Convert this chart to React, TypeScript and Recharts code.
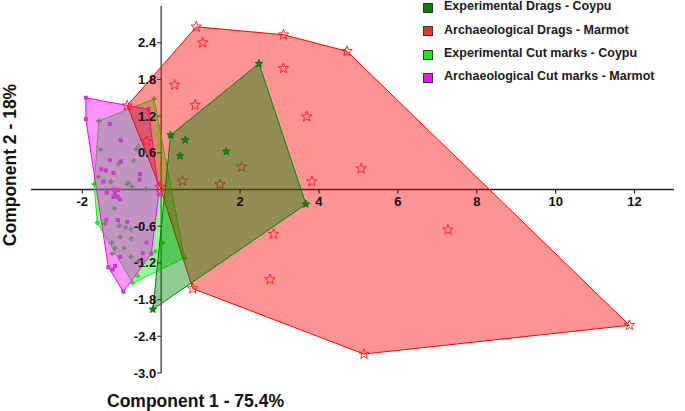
import React from 'react';
import { ScatterChart, Scatter, XAxis, YAxis, ReferenceLine } from 'recharts';

type P = { x: number; y: number };

// Archaeological Drags - Marmot (red)
const redHull: P[] = [
  { x: 0.89, y: 2.66 }, { x: 3.10, y: 2.53 }, { x: 4.71, y: 2.26 }, { x: 11.87, y: -2.22 },
  { x: 5.14, y: -2.69 }, { x: 0.80, y: -1.62 }, { x: -0.03, y: 0.04 }, { x: -0.86, y: 1.37 },
];
const redInner: P[] = [
  { x: 1.05, y: 2.40 }, { x: 3.10, y: 1.98 }, { x: 0.34, y: 1.71 }, { x: 0.86, y: 1.38 },
  { x: 3.69, y: 1.19 }, { x: 3.82, y: 0.13 }, { x: 5.07, y: 0.34 }, { x: 2.85, y: -0.73 },
  { x: 2.76, y: -1.47 }, { x: 7.27, y: -0.66 }, { x: 2.04, y: 0.37 }, { x: 1.49, y: 0.08 },
  { x: 0.54, y: 0.14 }, { x: -0.37, y: 0.79 },
];

// Experimental Drags - Coypu (dark green)
const darkGreenHull: P[] = [
  { x: 0.24, y: 0.89 }, { x: 2.48, y: 2.06 }, { x: 3.67, y: -0.24 }, { x: -0.21, y: -1.96 },
];
const darkGreenInner: P[] = [
  { x: 0.61, y: 0.81 }, { x: 0.48, y: 0.55 }, { x: 1.65, y: 0.62 },
];

// Experimental Cut marks - Coypu (light green)
const lightGreenHull: P[] = [
  { x: -1.58, y: 1.12 }, { x: -0.18, y: 1.48 }, { x: 0.59, y: -1.12 }, { x: -0.72, y: -1.53 },
  { x: -1.62, y: -0.54 }, { x: -1.70, y: 0.09 },
];
const lightGreenInner: P[] = [
  { x: -0.58, y: 0.71 }, { x: -0.63, y: 0.66 }, { x: -0.69, y: 0.47 }, { x: -1.08, y: 0.42 },
  { x: -1.59, y: 0.21 }, { x: -1.28, y: 0.13 }, { x: -0.87, y: 0.09 }, { x: -0.74, y: 0.05 },
  { x: -0.39, y: 0.01 }, { x: -1.19, y: -0.31 }, { x: -1.42, y: -0.56 }, { x: -1.06, y: -0.59 },
  { x: -0.90, y: -0.62 }, { x: -0.76, y: -0.65 }, { x: -1.04, y: -0.77 }, { x: -0.76, y: -0.80 },
  { x: -1.25, y: -0.87 }, { x: -1.17, y: -0.96 }, { x: -0.94, y: -0.96 }, { x: -1.24, y: -1.05 },
  { x: -0.76, y: -1.10 }, { x: -0.59, y: -1.18 }, { x: -0.15, y: -1.01 }, { x: 0.04, y: -0.88 },
  { x: -0.60, y: -1.41 }, { x: -1.53, y: 0.65 }, { x: -1.04, y: 0.81 }, { x: -0.83, y: 0.11 },
];

// Archaeological Cut marks - Marmot (magenta)
const magentaHull: P[] = [
  { x: -1.91, y: 1.50 }, { x: -0.32, y: 1.31 }, { x: -0.06, y: -0.08 }, { x: -0.25, y: -1.05 },
  { x: -0.96, y: -1.67 }, { x: -1.34, y: -1.27 }, { x: -1.91, y: 1.15 },
];
const magentaInner: P[] = [
  { x: -1.02, y: 0.80 }, { x: -1.30, y: 1.07 }, { x: -1.30, y: 0.48 }, { x: -1.02, y: 0.46 },
  { x: -1.52, y: 0.33 }, { x: -1.40, y: 0.31 }, { x: -1.21, y: 0.27 }, { x: -1.47, y: 0.13 },
  { x: -0.55, y: 0.16 }, { x: -0.54, y: 0.25 }, { x: -1.38, y: -0.05 }, { x: -1.21, y: 0.00 },
  { x: -1.17, y: -0.06 }, { x: -1.11, y: -0.12 }, { x: -1.21, y: -0.12 }, { x: -1.09, y: -0.01 },
  { x: -1.04, y: -0.16 }, { x: -1.39, y: -0.50 }, { x: -1.10, y: -0.50 }, { x: -0.86, y: -0.53 },
  { x: -0.37, y: -0.87 }, { x: -0.47, y: -1.04 }, { x: -1.23, y: -1.31 }, { x: -1.17, y: -1.25 },
  { x: -1.04, y: -1.10 },
];

const xTickValues = [-2, 2, 4, 6, 8, 10, 12];
const yTickValues = [-3.0, -2.4, -1.8, -1.2, -0.6, 0.6, 1.2, 1.8, 2.4];
const xDomain: [number, number] = [-3.3, 13];
const yDomain: [number, number] = [-3, 3];

const legendItems = [
  { label: 'Experimental Drags - Coypu', color: '#0a7d0a' },
  { label: 'Archaeological Drags - Marmot', color: '#f03030' },
  { label: 'Experimental Cut marks - Coypu', color: '#10f010' },
  { label: 'Archaeological Cut marks - Marmot', color: '#f010f0' },
];

const xTitle = 'Component 1 - 75.4%';
const yTitle = 'Component 2 - 18%';

const FONT = '"Liberation Sans", Arial, sans-serif';

const closed = (pts: P[]) => [...pts, pts[0]];
const xTicks = xTickValues.map((v) => ({ x: v, y: 0, label: String(v) }));
const yTicks = yTickValues.map((v) => ({ x: 0, y: v, label: v.toFixed(1) }));

function starPath(cx: number, cy: number, R: number, r: number) {
  let d = '';
  for (let i = 0; i < 10; i++) {
    const a = -Math.PI / 2 + (i * Math.PI) / 5;
    const rad = i % 2 === 0 ? R : r;
    d += (i === 0 ? 'M' : 'L') + (cx + rad * Math.cos(a)).toFixed(2) + ',' + (cy + rad * Math.sin(a)).toFixed(2);
  }
  return d + 'Z';
}

const Empty = () => <g />;

const RedStar = (p: any) => (
  <path d={starPath(p.cx, p.cy, 5.5, 2.3)} fill="none" stroke="#ff1a1a" strokeWidth={0.9} />
);
const GreenStar = (p: any) => (
  <path d={starPath(p.cx, p.cy, 4.2, 1.8)} fill="#0a8a0a" stroke="#056005" strokeWidth={0.6} />
);
const PlusMark = (p: any) => (
  <path
    d={`M${p.cx - 2.5},${p.cy}L${p.cx + 2.5},${p.cy}M${p.cx},${p.cy - 2.5}L${p.cx},${p.cy + 2.5}`}
    stroke="#18e018"
    strokeWidth={1.8}
  />
);
const SquareMark = (p: any) => (
  <rect x={p.cx - 2} y={p.cy - 2} width={4} height={4} fill="#c83cc8" />
);

const XTick = (p: any) => (
  <g>
    <line x1={p.cx} y1={p.cy} x2={p.cx} y2={p.cy + 4} stroke="#222" strokeWidth={1.2} />
    <text x={p.cx} y={p.cy + 16} textAnchor="middle" fontFamily={FONT} fontWeight="bold" fontSize={13} fill="#111">
      {p.payload.label}
    </text>
  </g>
);
const YTick = (p: any) => (
  <g>
    <line x1={p.cx - 4} y1={p.cy} x2={p.cx} y2={p.cy} stroke="#444" strokeWidth={1.2} />
    <text x={p.cx - 5} y={p.cy + 4.5} textAnchor="end" fontFamily={FONT} fontWeight="bold" fontSize={13} fill="#111">
      {p.payload.label}
    </text>
  </g>
);

const hullLine = (color: string) => ({ stroke: color, strokeWidth: 1, fill: color, fillOpacity: 0.42 });

export default function App() {
  return (
    <div style={{ position: 'absolute', left: 0, top: 0, width: 685, height: 411, background: '#fff' }}>
      <ScatterChart width={685} height={411} margin={{ top: 6, right: 11, bottom: 38, left: 31 }}>
        <XAxis type="number" dataKey="x" domain={xDomain} hide />
        <YAxis type="number" dataKey="y" domain={yDomain} hide />

        <Scatter data={closed(lightGreenHull)} shape={Empty} line={hullLine('#00ff00')} lineType="joint" isAnimationActive={false} />
        <Scatter data={[...lightGreenHull, ...lightGreenInner]} shape={PlusMark} isAnimationActive={false} />

        <Scatter data={closed(magentaHull)} shape={Empty} line={hullLine('#ff00ff')} lineType="joint" isAnimationActive={false} />
        <Scatter data={[...magentaHull, ...magentaInner]} shape={SquareMark} isAnimationActive={false} />

        <Scatter data={closed(redHull)} shape={Empty} line={hullLine('#ff0000')} lineType="joint" isAnimationActive={false} />
        <Scatter data={[...redHull, ...redInner]} shape={RedStar} isAnimationActive={false} />

        <Scatter data={closed(darkGreenHull)} shape={Empty} line={hullLine('#008000')} lineType="joint" isAnimationActive={false} />
        <Scatter data={[...darkGreenHull, ...darkGreenInner]} shape={GreenStar} isAnimationActive={false} />

        <ReferenceLine y={0} stroke="#222" strokeWidth={1.5} />
        <ReferenceLine x={0} stroke="#555" strokeWidth={1.5} />

        <Scatter data={xTicks} shape={XTick} isAnimationActive={false} />
        <Scatter data={yTicks} shape={YTick} isAnimationActive={false} />
      </ScatterChart>

      {legendItems.map((it, i) => (
        <React.Fragment key={it.label}>
          <div
            style={{
              position: 'absolute', left: 423, top: 3 + i * 23.3, width: 8, height: 8,
              background: it.color, border: '1px solid #333',
            }}
          />
          <div
            style={{
              position: 'absolute', left: 444, top: -0.6 + i * 23.3, lineHeight: '14px',
              fontFamily: FONT, fontWeight: 'bold', fontSize: 12.5, color: '#1a1a1a', whiteSpace: 'nowrap',
            }}
          >
            {it.label}
          </div>
        </React.Fragment>
      ))}

      <div style={{ position: 'absolute', left: 107, top: 391, fontFamily: FONT, fontWeight: 'bold', fontSize: 17.5, color: '#111', whiteSpace: 'nowrap' }}>
        {xTitle}
      </div>
      <div
        style={{
          position: 'absolute', left: 10, top: 165, fontFamily: FONT, fontWeight: 'bold', fontSize: 17.5, color: '#111',
          whiteSpace: 'nowrap', transform: 'translate(-50%, -50%) rotate(-90deg)',
        }}
      >
        {yTitle}
      </div>
    </div>
  );
}
